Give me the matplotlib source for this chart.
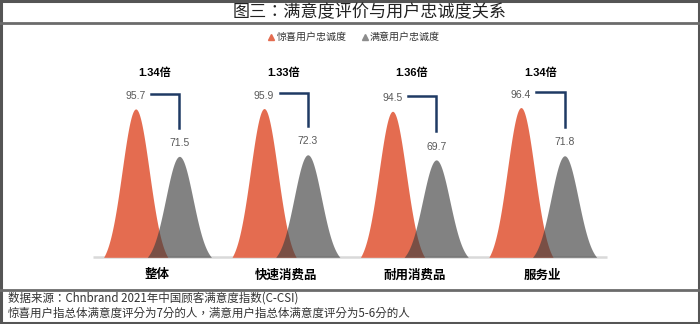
import numpy as np
import matplotlib
matplotlib.use('Agg')
import matplotlib.pyplot as plt
from matplotlib.lines import Line2D

plt.rcParams['font.family'] = ['Noto Sans CJK SC', 'DejaVu Sans']

# data
categories = ['整体', '快速消费品', '耐用消费品', '服务业']
delight_loyalty = [95.7, 95.9, 94.5, 96.4]
satisfied_loyalty = [71.5, 72.3, 69.7, 71.8]
ratio_labels = ['1.34倍', '1.33倍', '1.36倍', '1.34倍']

orange = '#e46c50'
grey = '#404040'
navy = '#1f3a64'
base = 20

fig = plt.figure(figsize=(7, 3.24), dpi=100)
ax = fig.add_axes([93.3 / 700, 66.7 / 324, 513.7 / 700, 196 / 324])
ax.set_xlim(-0.5, 3.5)
ax.set_ylim(base, 120)
ax.axis('off')

# peak shape: truncated gaussian normalised to 0..1
half = 0.25
sigma = 0.106
dx = np.linspace(-half, half, 200)
edge = np.exp(-half ** 2 / (2 * sigma ** 2))
shape = (np.exp(-dx ** 2 / (2 * sigma ** 2)) - edge) / (1 - edge)

off = 0.17
ax.plot([-0.5, 3.5], [base, base], color='#d9d9d9', lw=1.8, zorder=1,
        solid_capstyle='butt', clip_on=False)

num_font = ['Liberation Sans', 'Noto Sans CJK SC']
for i, (vo, vg) in enumerate(zip(delight_loyalty, satisfied_loyalty)):
    xo, xg = i - off, i + off
    ax.fill_between(xo + dx, base, base + (vo - base) * shape,
                    color=orange, lw=0, zorder=2)
    ax.fill_between(xg + dx, base, base + (vg - base) * shape,
                    color=grey, alpha=0.65, lw=0, zorder=3)
    ax.text(xo, vo + 6.6, f'{vo:.1f}', ha='center', va='center',
            fontsize=7.5, color='#595959', family=num_font)
    ax.text(xg, vg + 6.8, f'{vg:.1f}', ha='center', va='center',
            fontsize=7.5, color='#595959', family=num_font)
    # bracket linking the two peaks
    hy = vo + 7.7
    ax.plot([i - 0.05, xg, xg], [hy, hy, vg + 14.6], color=navy, lw=1.8,
            solid_joinstyle='miter', zorder=4)
    ax.text(i - 0.02, 114.2, ratio_labels[i], ha='center', va='center',
            fontsize=8, fontweight='bold', color='black', family=num_font)
    ax.text(i, base - 9.0, categories[i], ha='center',
            va='center', fontsize=9, fontweight='bold', color='black')

# title band and frame
fig.text(369.5 / 700, 1 - 12.5 / 324, '图三：满意度评价与用户忠诚度关系',
         ha='center', va='center', fontsize=12.3, color='#222222',
         family=['Noto Sans CJK TC', 'DejaVu Sans'])
for y in [23 / 324, 290 / 324]:
    fig.add_artist(Line2D([0, 1], [1 - y, 1 - y], color='#6b6b6b', lw=2,
                          transform=fig.transFigure))
fig.add_artist(plt.Rectangle((0.001, 0.002), 0.998, 0.996, fill=False,
                             ec='#555555', lw=2.2, transform=fig.transFigure))

handles = [Line2D([], [], marker='^', ls='', color=orange, ms=5),
           Line2D([], [], marker='^', ls='', color='#8c8c8c', ms=5)]
fig.legend(handles, ['惊喜用户忠诚度', '满意用户忠诚度'], ncol=2, loc='center',
           bbox_to_anchor=(353 / 700, 1 - 37 / 324), frameon=False,
           fontsize=7.2, handletextpad=0.05, columnspacing=1.3,
           handlelength=1.0, labelcolor='#333333')

foot_font = ['Noto Sans CJK TC', 'DejaVu Sans']
fig.text(8 / 700, 1 - 298 / 324, '数据来源：Chnbrand 2021年中国顾客满意度指数(C-CSI)',
         ha='left', va='center', fontsize=8.3, color='#333333', family=foot_font)
fig.text(8 / 700, 1 - 313 / 324,
         '惊喜用户指总体满意度评分为7分的人，满意用户指总体满意度评分为5-6分的人',
         ha='left', va='center', fontsize=8.3, color='#333333', family=foot_font)

fig.savefig('out.png', dpi=100)
